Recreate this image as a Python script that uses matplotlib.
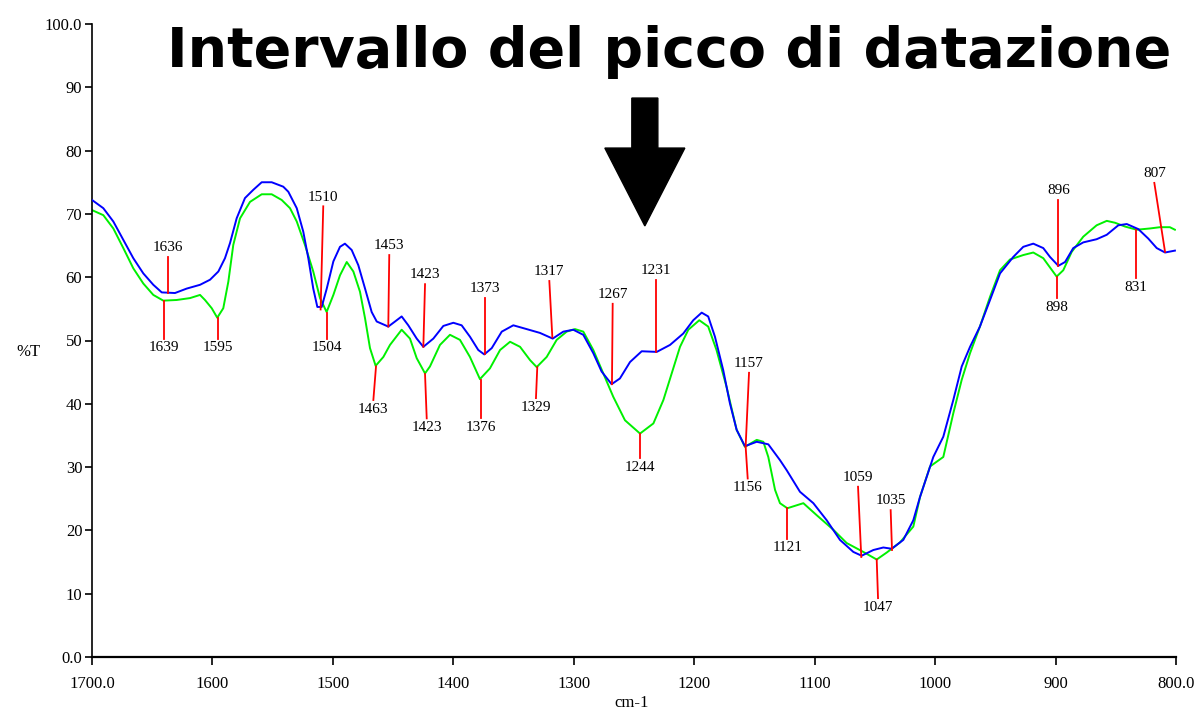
import matplotlib
matplotlib.use("Agg")
import matplotlib.pyplot as plt
from matplotlib.patches import FancyArrow

# spectrum 1 (blue)
blue_wn = [1700, 1690.6, 1682.3, 1674, 1665.7, 1657.4, 1649.1, 1642.1, 1631.1, 1621.4,
           1610.3, 1602.0, 1595.1, 1589.6, 1585.4, 1579.9, 1573, 1566.1, 1559.1, 1550.8,
           1541.2, 1537.0, 1530.0, 1524.6, 1520.4, 1516.3, 1512.9, 1509.3, 1505.1, 1499.6,
           1494.1, 1490, 1484.4, 1478.9, 1473.3, 1467.8, 1463.6, 1454, 1448.4, 1442.9,
           1437.4, 1430.4, 1424.9, 1416.6, 1408.3, 1400, 1393.1, 1386.2, 1379.3, 1374.3,
           1368.1, 1359.8, 1350.2, 1339.1, 1328.1, 1317.5, 1308.7, 1300.4, 1292.1, 1283.8,
           1276.9, 1268.6, 1261.7, 1253.3, 1243.6, 1231.1, 1220.1, 1209.1, 1200.8, 1193.8,
           1188.4, 1182.8, 1175.9, 1170.4, 1164.8, 1157.9, 1148.1, 1138.5, 1128.8, 1123.2,
           1112.2, 1101.1, 1090, 1079, 1067.9, 1061, 1051.3, 1043, 1036, 1026.4,
           1018.1, 1012.5, 1001.5, 993.2, 984.9, 977.9, 971.0, 962.8, 954.4, 946.1,
           935.1, 926.8, 918.5, 910.2, 904.6, 897.7, 892.1, 885.3, 877.0, 865.9,
           857.5, 847.9, 840.9, 831.3, 823.0, 816.0, 809.1, 800.9]
blue_t = [72.2, 70.9, 68.8, 65.9, 63.0, 60.6, 58.8, 57.6, 57.5, 58.2,
          58.8, 59.6, 60.9, 63.0, 65.4, 69.3, 72.5, 73.8, 75.0, 75.0,
          74.3, 73.5, 70.9, 67.2, 63.0, 58.2, 55.3, 55.3, 58.2, 62.5,
          64.8, 65.3, 64.3, 61.9, 58.2, 54.5, 53.0, 52.2, 53.0, 53.8,
          52.4, 50.3, 49.0, 50.3, 52.3, 52.8, 52.4, 50.6, 48.5, 47.8,
          48.8, 51.4, 52.4, 51.8, 51.2, 50.3, 51.4, 51.7, 50.9, 48.0,
          45.1, 43.1, 44.0, 46.6, 48.3, 48.2, 49.3, 51.1, 53.2, 54.4,
          53.8, 50.6, 45.3, 40.1, 35.9, 33.3, 34.0, 33.6, 31.1, 29.5,
          26.1, 24.3, 21.6, 18.5, 16.6, 16.0, 16.9, 17.3, 17.1, 18.5,
          21.6, 25.3, 31.6, 34.8, 40.6, 45.9, 49.0, 52.2, 56.4, 60.6,
          63.2, 64.8, 65.3, 64.6, 63.2, 61.8, 62.4, 64.6, 65.5, 66.0,
          66.7, 68.2, 68.4, 67.6, 66.1, 64.6, 63.9, 64.2]

# spectrum 2 (green)
green_wn = [1700, 1690.6, 1682.3, 1674, 1665.7, 1657.4, 1649.1, 1640.8, 1629.7, 1618.6,
            1610.3, 1606.2, 1600.6, 1596, 1591, 1586.8, 1582.7, 1577.1, 1568.8, 1559.1,
            1550.8, 1542.5, 1535.6, 1530.0, 1523.2, 1516.3, 1510.7, 1505.2, 1499.6, 1494.1,
            1488.5, 1483, 1477.5, 1473.3, 1469.2, 1464.5, 1458.1, 1452.6, 1442.9, 1436,
            1430.4, 1423.5, 1419.4, 1411.1, 1402.8, 1394.5, 1386.2, 1377.9, 1369.6, 1361.2,
            1352.9, 1344.6, 1336.3, 1330.8, 1322.5, 1314.2, 1305.9, 1299.0, 1292.1, 1283.8,
            1275.5, 1267.2, 1257.5, 1245, 1233.9, 1225.6, 1218.7, 1211.8, 1204.9, 1195.8,
            1188.4, 1181.5, 1173.2, 1164.8, 1157.9, 1148.1, 1142.6, 1138.5, 1132.9, 1128.8,
            1122.7, 1109.4, 1098.3, 1084.5, 1073.4, 1059.6, 1048.5, 1040.2, 1029.2, 1018.1,
            1012.5, 1004.2, 993.2, 984.9, 977.9, 971.0, 962.8, 954.4, 946.1, 937.8,
            926.8, 918.5, 910.2, 906, 899.1, 893.6, 886.6, 877.0, 865.9, 857.5,
            850.6, 842.3, 832.6, 821.6, 813.3, 805.1, 800.9]
green_t = [70.6, 69.8, 67.7, 64.6, 61.4, 59.0, 57.2, 56.3, 56.4, 56.7,
           57.2, 56.4, 55.1, 53.6, 55.1, 59.3, 65.1, 69.3, 71.9, 73.1,
           73.1, 72.2, 70.9, 68.8, 65.1, 60.9, 56.7, 54.5, 57.2, 60.3,
           62.4, 60.9, 57.7, 53.5, 48.8, 46.0, 47.4, 49.3, 51.7, 50.3,
           47.2, 44.8, 45.9, 49.3, 50.9, 50.1, 47.4, 43.9, 45.6, 48.5,
           49.8, 49.0, 46.9, 45.8, 47.4, 50.1, 51.4, 51.8, 51.4, 48.5,
           44.8, 41.1, 37.4, 35.3, 36.9, 40.6, 44.8, 49.0, 51.7, 53.2,
           52.2, 48.5, 42.7, 35.9, 33.2, 34.3, 34.0, 31.6, 26.4, 24.3,
           23.5, 24.3, 22.4, 20.1, 18.0, 16.6, 15.4, 16.5, 18.1, 20.6,
           25.3, 30.1, 31.6, 38.5, 43.8, 48.0, 52.2, 56.9, 61.1, 62.8,
           63.5, 63.9, 63.0, 61.9, 60.1, 61.1, 64.0, 66.4, 68.2, 68.9,
           68.6, 68.0, 67.5, 67.7, 67.9, 67.9, 67.5]

# peak labels above the curves: label, point on curve, top of red line
up_labels = ["1636", "1510", "1453", "1423", "1373", "1317", "1267", "1231",
             "1157", "1059", "1035", "896", "807"]
up_x0 = [1636.6, 1510.2, 1454.0, 1424.9, 1373.7, 1317.8, 1268.3, 1232.0,
         1157.3, 1061.3, 1035.8, 897.7, 809.1]
up_y0 = [57.5, 54.9, 52.2, 49.0, 47.8, 50.5, 43.1, 48.2,
         33.3, 15.8, 16.9, 61.8, 64.0]
up_x1 = [1636.6, 1508.0, 1453.2, 1423.5, 1373.7, 1320.3, 1267.7, 1232.0,
         1154.5, 1064.0, 1036.9, 897.7, 818.0]
up_y1 = [63.2, 71.2, 63.5, 58.9, 56.7, 59.4, 55.8, 59.6,
         44.9, 26.9, 23.2, 72.2, 74.9]

# peak labels below the curves
dn_labels = ["1639", "1595", "1504", "1463", "1423", "1376", "1329", "1244",
             "1156", "1121", "1047", "898", "831"]
dn_x0 = [1640.2, 1595.6, 1505.2, 1464.2, 1423.5, 1377.3, 1330.3, 1245.0,
         1157.3, 1122.7, 1048.5, 899.1, 833.2]
dn_y0 = [56.2, 53.5, 54.3, 45.9, 44.7, 43.8, 45.8, 35.3,
         33.2, 23.5, 15.4, 60.1, 67.5]
dn_x1 = [1640.2, 1595.6, 1505.2, 1466.4, 1422.1, 1377.3, 1331.4, 1245.0,
         1155.6, 1122.7, 1047.4, 899.1, 833.2]
dn_y1 = [50.3, 50.3, 50.3, 40.6, 37.7, 37.7, 40.9, 31.4,
         28.2, 18.7, 9.3, 56.7, 59.8]

x_ticks = [1700, 1600, 1500, 1400, 1300, 1200, 1100, 1000, 900, 800]
x_ticklabels = ["1700.0", "1600", "1500", "1400", "1300", "1200", "1100", "1000", "900", "800.0"]
y_ticks = [0, 10, 20, 30, 40, 50, 60, 70, 80, 90, 100]
y_ticklabels = ["0.0", "10", "20", "30", "40", "50", "60", "70", "80", "90", "100.0"]

serif = "Liberation Serif"

fig = plt.figure(figsize=(12.04, 7.12), dpi=100)
ax = fig.add_axes([92 / 1204, 1 - 657 / 712, (1176 - 92) / 1204, (657 - 24) / 712])

ax.plot(blue_wn, blue_t, color="#0000ff", lw=1.4, zorder=3)
ax.plot(green_wn, green_t, color="#00f000", lw=1.4, zorder=2)

for lab, x0, y0, x1, y1 in zip(up_labels, up_x0, up_y0, up_x1, up_y1):
    ax.plot([x0, x1], [y0, y1], color="red", lw=1.3, zorder=4)
    ax.annotate(lab, (x1, y1), xytext=(0, 2), textcoords="offset points",
                ha="center", va="bottom", fontsize=11, family=serif)

for lab, x0, y0, x1, y1 in zip(dn_labels, dn_x0, dn_y0, dn_x1, dn_y1):
    ax.plot([x0, x1], [y0, y1], color="red", lw=1.3, zorder=4)
    ax.annotate(lab, (x1, y1), xytext=(0, -2), textcoords="offset points",
                ha="center", va="top", fontsize=11, family=serif)

# big arrow pointing at the dating peak region
ax.add_patch(FancyArrow(1241, 88.3, 0, -20.2, width=21.6, head_width=66.4,
                        head_length=12.3, length_includes_head=True,
                        color="black", zorder=5, clip_on=False))

ax.set_xlim(1700, 800)
ax.set_ylim(0, 100)
ax.set_xticks(x_ticks)
ax.set_xticklabels(x_ticklabels, family=serif, fontsize=12)
ax.set_yticks(y_ticks)
ax.set_yticklabels(y_ticklabels, family=serif, fontsize=12)
ax.tick_params(axis="x", direction="out", length=6, width=1.2, pad=8)
ax.tick_params(axis="y", direction="out", length=5, width=1.2, pad=2)
ax.spines["top"].set_visible(False)
ax.spines["right"].set_visible(False)
ax.spines["bottom"].set_linewidth(1.6)
ax.spines["left"].set_linewidth(1.2)

fig.text(28 / 1204, 1 - 352 / 712, "%T", family=serif, fontsize=12, ha="center", va="center")
fig.text(632 / 1204, 1 - 703 / 712, "cm-1", family=serif, fontsize=12, ha="center", va="center")

fig.text(669 / 1204, 1 - 52 / 712, "Intervallo del picco di datazione",
         family="DejaVu Sans", fontweight="bold", fontsize=40, ha="center", va="center")

fig.savefig("out.png", dpi=100)
